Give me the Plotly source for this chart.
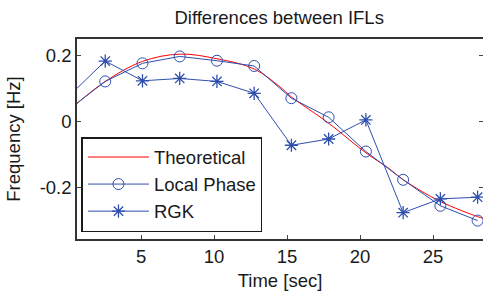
import plotly.graph_objects as go

# data
t_theory = [0.616, 2.55, 5.1, 7.65, 10.2, 12.75, 14.5, 15.3, 17.85, 20.4, 21.9, 23.0, 25.5, 28.05, 28.42]
y_theory = [0.055, 0.122, 0.183, 0.205, 0.191, 0.160, 0.106, 0.075, -0.005, -0.095, -0.140, -0.178, -0.243, -0.289, -0.294]

t_samples = [0, 2.55, 5.1, 7.65, 10.2, 12.75, 15.3, 17.85, 20.4, 22.95, 25.5, 28.05]
y_local = [0.035, 0.122, 0.177, 0.198, 0.185, 0.169, 0.071, 0.013, -0.091, -0.177, -0.256, -0.301]
y_rgk = [0.075, 0.184, 0.124, 0.131, 0.122, 0.086, -0.072, -0.053, 0.005, -0.277, -0.235, -0.230]

x_ticks = [5, 10, 15, 20, 25]
y_ticks = [-0.2, 0, 0.2]
y_ticklabels = ["-0.2", "0", "0.2"]

blue = "#2f4fae"
font = "Liberation Sans, Arial, sans-serif"
fs = 18.5

fig = go.Figure()
fig.add_trace(go.Scatter(x=t_theory, y=y_theory, mode="lines", name="Theoretical",
                         line=dict(color="#ff0000", width=1, shape="spline")))
fig.add_trace(go.Scatter(x=t_samples, y=y_local, mode="lines+markers", name="Local Phase",
                         line=dict(color=blue, width=1),
                         marker=dict(symbol="circle-open", size=11, color=blue, line=dict(width=1))))
fig.add_trace(go.Scatter(x=t_samples, y=y_rgk, mode="lines+markers", name="RGK",
                         line=dict(color=blue, width=1),
                         marker=dict(symbol="asterisk-open", size=11, color=blue, line=dict(width=1.3, color=blue))))

fig.update_layout(
    width=483, height=294,
    margin=dict(l=77, r=0, t=39, b=55, autoexpand=False),
    paper_bgcolor="white", plot_bgcolor="white",
    font=dict(family=font, size=fs, color="#1a1a1a"),
    title=dict(text="Differences between IFLs", x=0.578, xanchor="center", y=0.94, yanchor="middle",
               yref="container", font=dict(size=fs, family=font)),
    showlegend=True,
    legend=dict(x=0.011, y=0.035, xanchor="left", yanchor="bottom",
                bgcolor="white", bordercolor="#1a1a1a", borderwidth=1.5,
                font=dict(size=fs, family=font), itemwidth=61),
)
fig.update_xaxes(range=[0.616, 28.42], tickvals=x_ticks, ticks="inside", ticklen=4,
                 showline=True, linecolor="#333333", linewidth=1.5, mirror=True, automargin=False,
                 showgrid=False, zeroline=False,
                 title=dict(text="Time [sec]", standoff=8, font=dict(size=fs, family=font)),
                 tickfont=dict(size=fs, family=font))
fig.update_yaxes(range=[-0.357, 0.251], tickvals=y_ticks, ticktext=y_ticklabels, ticks="inside", ticklen=4,
                 showline=True, linecolor="#333333", linewidth=1.5, mirror="ticks", automargin=False,
                 showgrid=False, zeroline=False,
                 title=dict(text="Frequency [Hz]", standoff=14, font=dict(size=fs, family=font)),
                 tickfont=dict(size=fs, family=font))

fig.write_html("out.html", config={"displayModeBar": False},
               post_script="document.body.style.margin='0';document.body.style.overflow='hidden';")
